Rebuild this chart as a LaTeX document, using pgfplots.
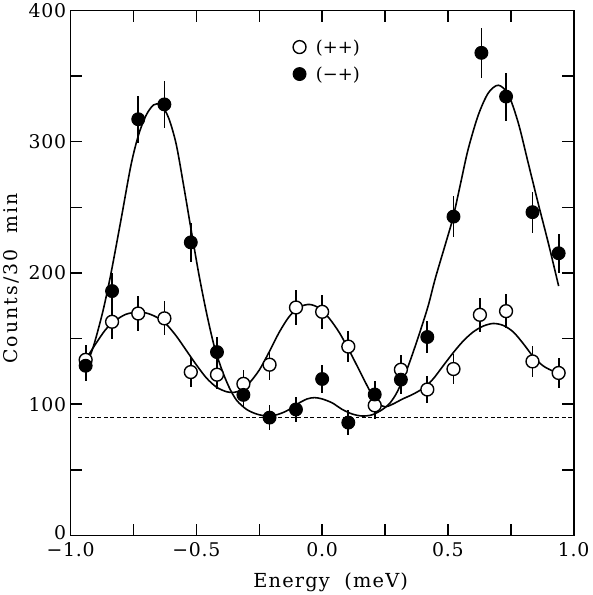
\documentclass[border=0pt]{standalone}
\usepackage{fontspec}
\setmainfont{DejaVu Serif}
\usepackage{pgfplots}
\usepackage{pgfplotstable}
\pgfplotsset{compat=1.18}

\pgfplotstableread{
x y e
-0.940 133.8 11.6
-0.835 162.8 12.8
-0.731 169.1 13.0
-0.627 165.4 12.9
-0.522 124.5 11.2
-0.418 122.5 11.1
-0.313 115.5 10.7
-0.209 130.1 11.4
-0.104 173.7 13.2
 0.000 170.4 13.1
 0.104 143.9 12.0
 0.209  99.1 10.0
 0.313 126.3 11.2
 0.418 111.2 10.5
 0.522 126.8 11.3
 0.627 168.1 13.0
 0.731 170.9 13.1
 0.836 132.6 11.5
 0.940 123.8 11.1
}\openpts

\pgfplotstableread{
x y e
-0.940 129.3 11.4
-0.835 186.2 13.6
-0.731 317.1 17.8
-0.627 328.4 18.1
-0.522 223.3 14.9
-0.418 139.7 11.8
-0.313 107.1 10.3
-0.209  89.8  9.5
-0.104  96.0  9.8
 0.000 119.2 10.9
 0.104  86.0  9.3
 0.209 107.4 10.4
 0.313 118.7 10.9
 0.418 151.2 12.3
 0.522 242.9 15.6
 0.633 367.7 19.2
 0.731 334.4 18.3
 0.836 246.3 15.7
 0.940 215.0 14.7
}\filledpts

\pgfplotstableread{
x y
-0.94 131
-0.92 138
-0.90 150
-0.87 172
-0.84 199
-0.80 240
-0.76 282
-0.73 305
-0.70 320
-0.67 328
-0.64 328
-0.61 318
-0.58 298
-0.55 266
-0.52 232
-0.49 199
-0.46 170
-0.43 145
-0.40 127
-0.37 113
-0.34 103
-0.30 96
-0.26 92.5
-0.22 91
-0.18 92
-0.14 95
-0.10 100
-0.06 104
-0.03 105
0.00 104
0.04 101
0.08 96
0.12 92.5
0.16 91
0.20 92
0.24 96
0.27 101
0.30 110
0.34 128
0.38 150
0.42 174
0.45 196
0.49 222
0.52 242
0.55 268
0.58 294
0.62 320
0.66 337
0.70 343
0.74 336
0.78 314
0.82 283
0.86 252
0.90 222
0.94 190
}\filledfit

\pgfplotstableread{
x y
-0.94 134
-0.90 146
-0.86 157
-0.82 164
-0.78 168.5
-0.74 170
-0.70 169.5
-0.66 166.5
-0.62 161
-0.58 152
-0.54 141
-0.50 130
-0.46 120
-0.42 113
-0.38 109.5
-0.35 109
-0.32 111
-0.29 116
-0.25 126
-0.21 140
-0.17 155
-0.13 167
-0.09 174
-0.05 176
-0.01 173
0.03 165
0.07 154
0.11 140
0.15 125
0.19 110
0.22 101
0.25 98
0.28 100
0.32 104
0.36 107.5
0.40 112
0.44 119
0.48 129
0.52 139
0.56 148
0.60 155
0.64 159.5
0.68 161.5
0.72 160
0.76 155
0.80 146
0.84 136
0.88 129
0.92 125
0.94 124
}\openfit

\begin{document}
\begin{tikzpicture}
\begin{axis}[
  scale only axis, width=507pt, height=529pt,
  xmin=-1, xmax=1, ymin=0, ymax=400,
  axis line style={line width=1.8pt},
  xtick={-1,-0.5,0,0.5,1}, xticklabels={−1.0,−0.5,0.0,0.5,1.0},
  minor xtick={-0.75,-0.25,0.25,0.75},
  ytick={0,100,200,300,400}, yticklabels={\raisebox{6pt}{0},100,200,300,400},
  minor ytick={50,150,250,350},
  tick align=inside, major tick length=12pt, minor tick length=12pt,
  tick style={line width=1.5pt, black},
  tick label style={font=\fontsize{19}{22}\selectfont\addfontfeature{LetterSpace=4}},
  xticklabel style={yshift=-4pt},
  yticklabel style={xshift=-1pt},
  xlabel={Energy\ \ (meV)},
  ylabel={Counts/30\ \ min},
  xlabel style={font=\fontsize{19.5}{22}\selectfont\addfontfeature{LetterSpace=6}, at={(axis description cs:0.517,-0.089)}, anchor=center},
  ylabel style={font=\fontsize{19}{22}\selectfont\addfontfeature{LetterSpace=11}, at={(axis description cs:-0.118,0.49)}, anchor=center},
  legend style={draw=none, fill=none, at={(axis cs:-0.128,381)}, anchor=north west,
    font=\fontsize{18}{21}\selectfont, row sep=8pt,
    /tikz/every odd column/.append style={column sep=8pt}},
  legend cell align=left,
]
\addplot[black, line width=1.6pt, smooth, forget plot] table[x=x,y=y] {\filledfit};
\addplot[black, line width=1.6pt, smooth, forget plot] table[x=x,y=y] {\openfit};
\addplot[black, line width=1.3pt, dash pattern=on 4pt off 2.5pt, forget plot] coordinates {(-0.97,90) (1,90)};
\addplot[only marks, mark=*, mark size=6.5pt, mark options={fill=white, draw=black, line width=1.4pt},
  error bars/.cd, y dir=both, y explicit, error mark=none, error bar style={line width=1.8pt, black}]
  table[x=x, y=y, y error=e] {\openpts};
\addlegendentry{(++)}
\addplot[only marks, mark=*, mark size=6.5pt, mark options={fill=black, draw=black, line width=1pt},
  error bars/.cd, y dir=both, y explicit, error mark=none, error bar style={line width=1.8pt, black}]
  table[x=x, y=y, y error=e] {\filledpts};
\addlegendentry{(−+)}
\end{axis}
\end{tikzpicture}
\end{document}
